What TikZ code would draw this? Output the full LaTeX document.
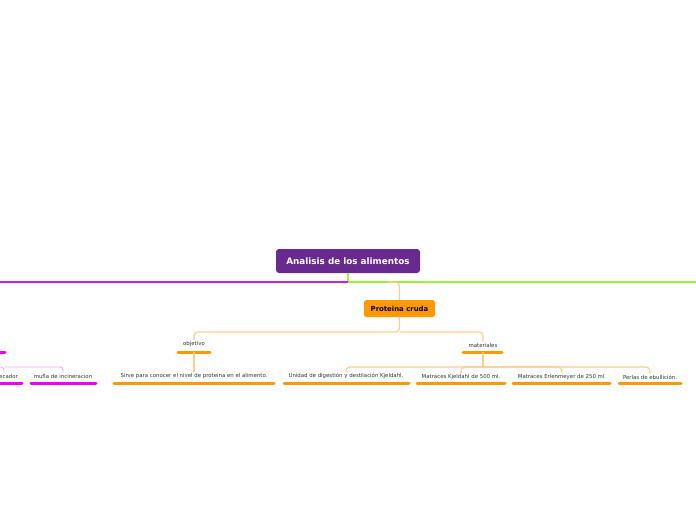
\documentclass[tikz,border=0pt]{standalone}
\usepackage{fontspec}
\setmainfont{DejaVu Sans}
\definecolor{rootpurple}{HTML}{682A8E}
\definecolor{protorange}{HTML}{FF9900}
\definecolor{lineorange}{HTML}{FFCC88}
\definecolor{barorange}{HTML}{FF9900}
\definecolor{greenline}{HTML}{9CF03A}
\definecolor{magline}{HTML}{C21EEE}
\definecolor{magbar}{HTML}{EE00EE}
\definecolor{maglight}{HTML}{F2A6F2}
\definecolor{txtgray}{HTML}{333333}
\tikzset{
  rootbox/.style={draw=none, fill=rootpurple, rounded corners=3pt, minimum width=144pt, minimum height=24pt, text=white, font=\fontsize{8.8}{10}\selectfont\bfseries, inner sep=0pt},
  protbox/.style={draw=none, fill=protorange, rounded corners=2.5pt, minimum width=71pt, minimum height=17pt, text=black, font=\fontsize{6.9}{8}\selectfont\bfseries, inner sep=0pt},
  leaf/.style={text=txtgray, font=\fontsize{5.4}{6}\selectfont, inner sep=1pt},
  obar/.style={draw=barorange, line width=3pt, line cap=round},
  mbar/.style={draw=magbar, line width=3pt, line cap=round},
  oconn/.style={draw=lineorange, line width=1.1pt, rounded corners=4pt},
  mconn/.style={draw=maglight, line width=0.9pt, rounded corners=3pt},
}
\begin{document}
\begin{tikzpicture}[x=1pt,y=-1pt]
\useasboundingbox (0,0) rectangle (696,520);
\clip (0,0) rectangle (696,520);
% root
\node[rootbox] (root) at (348,261) {Analisis de los alimentos};
\coordinate (rj) at (348,282);
\coordinate (gEnd) at (696,282);
\coordinate (mEnd) at (0,282);
\draw[greenline, line width=1.2pt] (root.south) -- (rj) -- (gEnd);
\draw[magline, line width=1.2pt] (rj) -- (mEnd);
% proteina
\node[protbox] (prot) at (399.5,308.5) {Proteina cruda};
\coordinate (pj) at (388,282);
\draw[oconn] (pj) -| (prot.north);
% level 2
\node[leaf] (obj) at (194,344) {objetivo};
\node[leaf] (mat) at (483,345) {materiales};
\coordinate (objb) at (194,352);
\coordinate (matb) at (483,352);
\draw[obar] (178,352) -- (210,352);
\draw[obar] (463,352) -- (502,352);
\coordinate (pk) at (399.5,332);
\draw[oconn] (prot.south) -- (pk) -| (obj.north);
\draw[oconn] (pk) -| (mat.north);
% objetivo child
\node[leaf] (sirve) at (194,376) {Sirve para conocer el nivel de proteina en el alimento.};
\draw[oconn] (objb) -- (sirve.north);
\draw[obar] (114,383) -- (274,383);
% materiales children
\node[leaf] (unidad) at (346,376) {Unidad de digestión y destilación Kjeldahl.};
\node[leaf] (m500) at (461,377) {Matraces Kjeldahl de 500 ml.};
\node[leaf] (erl) at (562,377) {Matraces Erlenmeyer de 250 ml.};
\node[leaf] (perlas) at (650,377) {Perlas de ebullición.};
\coordinate (mk) at (483,367);
\draw[oconn] (matb) -- (mk);
\draw[oconn] (mk) -| (unidad.north);
\draw[oconn] (mk) -| (m500.north);
\draw[oconn] (mk) -| (erl.north);
\draw[oconn] (mk) -| (perlas.north);
\draw[obar] (284,383) -- (409,383);
\draw[obar] (417,383) -- (505,383);
\draw[obar] (513,383) -- (610,383);
\draw[obar] (619,383) -- (681,383);
% left magenta branch (cut off at the edge, as in the reference)
\draw[mbar] (-10,352) -- (5,352);
\node[leaf, anchor=east] (dese) at (19,376) {desecador};
\node[leaf] (mufla) at (63,376) {mufla de incineracion};
\coordinate (lk) at (-10,367);
\coordinate (lj) at (4,367);
\draw[mconn] (lk) -- (lj) -- (lj |- dese.north);
\draw[mconn] (lj) -| (mufla.north);
\draw[mbar] (-10,383) -- (22,383);
\draw[mbar] (31,383) -- (96,383);
\end{tikzpicture}
\end{document}
